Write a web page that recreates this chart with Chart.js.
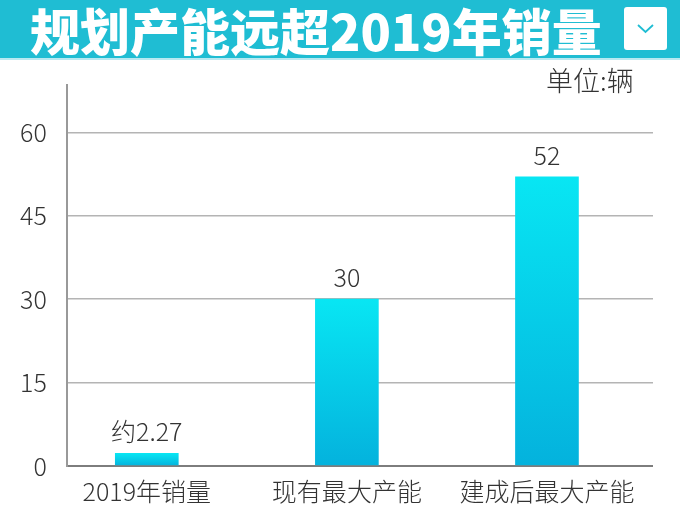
<!DOCTYPE html>
<html>
<head>
<meta charset="utf-8">
<script src="https://cdn.jsdelivr.net/npm/chart.js@4"></script>
<style>
    html, body { margin: 0; padding: 0; background: #fff; }
    #wrap { position: relative; width: 680px; height: 510px; overflow: hidden; }
    #header {
        position: absolute; left: 0; top: 0; width: 680px; height: 58px;
        background: #1fbdd3; border-bottom: 2px solid #b9e9f1;
    }
    #title {
        position: absolute; left: 30px; top: 0px; color: #fff;
        font: 900 50px "Noto Sans CJK SC", sans-serif; white-space: nowrap;
        line-height: 58px;
    }
    #btn {
        position: absolute; left: 624px; top: 7px; width: 43px; height: 43px;
        background: #fff; border-radius: 3px;
    }
    #unit {
        position: absolute; left: 546px; top: 60px; color: #333;
        font: 300 27px "Noto Sans CJK SC", sans-serif;
    }
    canvas { position: absolute; left: 0; top: 0; }
</style>
</head>
<body>
<div id="wrap">
    <canvas id="capChart" width="680" height="510"></canvas>
    <div id="header">
        <div id="title">规划产能远超2019年销量</div>
        <div id="btn">
            <svg width="43" height="43" viewBox="0 0 43 43">
                <polyline points="14,18 21.5,25 29,18" fill="none" stroke="#1fbdd3" stroke-width="1.8"/>
            </svg>
        </div>
    </div>
    <div id="unit">单位:辆</div>
</div>
<script>
    const categories = ['2019年销量', '现有最大产能', '建成后最大产能'];
    const values = [2.27, 30, 52];
    const valueLabels = ['约2.27', '30', '52'];
    const yTicks = [0, 15, 30, 45, 60];

    const tickFont = { family: '"Noto Sans CJK SC", sans-serif', size: 25, weight: 300 };

    function barGradient(context) {
        const chart = context.chart;
        const yScale = chart.scales.y;
        if (!yScale || context.dataIndex === undefined) return '#0bd0ea';
        const top = yScale.getPixelForValue(context.raw);
        const base = yScale.getPixelForValue(0);
        if (!isFinite(top) || !isFinite(base) || top === base) return '#0bd0ea';
        const g = chart.ctx.createLinearGradient(0, top, 0, base);
        g.addColorStop(0, '#08e6f3');
        g.addColorStop(1, '#04b2dd');
        return g;
    }

    /*Category band sits a bit left of the plot area, like the original*/
    const shiftCategories = {
        id: 'shiftCategories',
        afterLayout(chart) {
            const x = chart.scales.x;
            x.left = chart.chartArea.left - 20;
            x.right = chart.chartArea.right - 6;
            x.width = x.right - x.left;
            x.configure();
        }
    };

    /*Value labels above bars*/
    const valueLabelPlugin = {
        id: 'valueLabels',
        afterDatasetsDraw(chart) {
            const ctx = chart.ctx;
            const meta = chart.getDatasetMeta(0);
            ctx.save();
            ctx.fillStyle = '#333';
            ctx.font = '300 25px "Noto Sans CJK SC", sans-serif';
            ctx.textAlign = 'center';
            ctx.textBaseline = 'bottom';
            meta.data.forEach(function (bar, i) {
                ctx.fillText(valueLabels[i], bar.x, bar.y - 9);
            });
            ctx.restore();
        }
    };

    new Chart(document.getElementById('capChart').getContext('2d'), {
        type: 'bar',
        data: {
            labels: categories,
            datasets: [{
                data: values,
                backgroundColor: barGradient,
                borderWidth: 0,
                barThickness: 63
            }]
        },
        options: {
            responsive: false,
            animation: false,
            layout: { padding: { top: 85, left: 0, right: 27, bottom: 2 } },
            plugins: {
                legend: { display: false },
                tooltip: { enabled: false }
            },
            scales: {
                x: {
                    grid: { display: false },
                    border: { display: false },
                    ticks: { color: '#333', font: tickFont, padding: 2 }
                },
                y: {
                    min: 0,
                    max: 68.5,
                    afterBuildTicks: function (scale) {
                        scale.ticks = yTicks.map(v => ({ value: v }));
                    },
                    grid: {
                        color: ctx => ctx.tick && ctx.tick.value === 0 ? '#7d7d7d' : '#b4b4b4',
                        lineWidth: ctx => ctx.tick && ctx.tick.value === 0 ? 2 : 1.5,
                        drawTicks: false
                    },
                    border: { display: true, color: '#999', width: 2 },
                    ticks: { color: '#333', font: tickFont, padding: 20 }
                }
            }
        },
        plugins: [shiftCategories, valueLabelPlugin]
    });
</script>
</body>
</html>
